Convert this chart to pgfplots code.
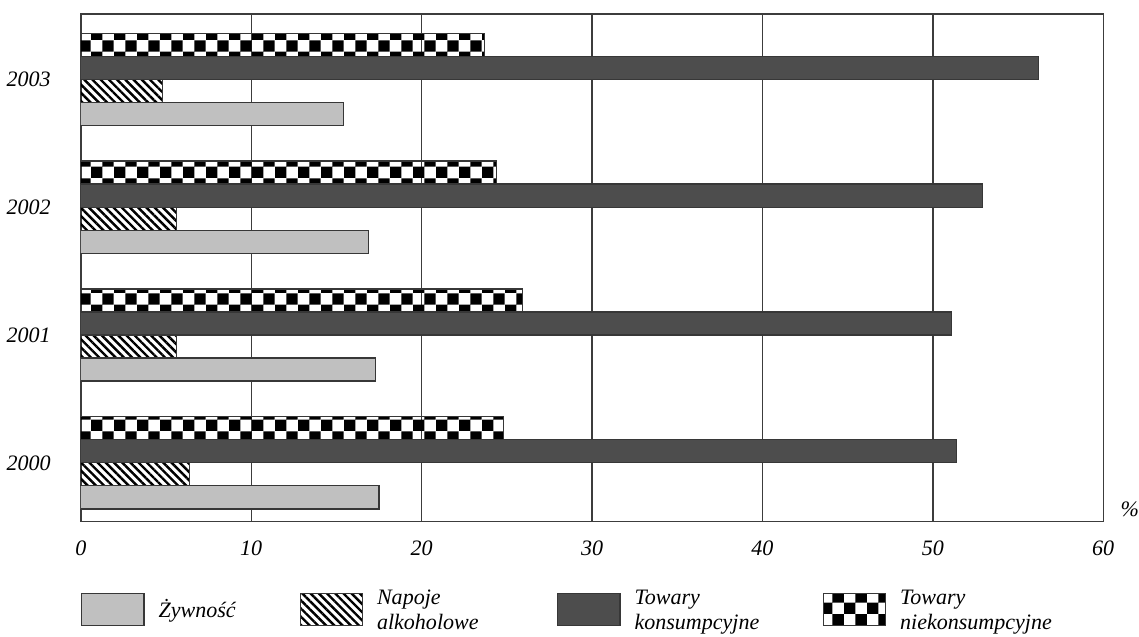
\documentclass[border=0pt]{standalone}
\usepackage{pgfplots}
\pgfplotsset{compat=1.18}
\usepackage{fontspec}
\setmainfont{Liberation Serif}
\usetikzlibrary{patterns,patterns.meta}

\definecolor{lightbar}{RGB}{192,192,192}
\definecolor{darkbar}{RGB}{77,77,77}
\definecolor{edge}{RGB}{55,55,55}
\definecolor{gridc}{RGB}{60,60,60}

% large checkerboard tile (squares of 5.7pt)
\pgfdeclarepatternformonly{bigchecker}{\pgfqpoint{0pt}{0pt}}{\pgfqpoint{11.4pt}{11.4pt}}{\pgfqpoint{11.4pt}{11.4pt}}{%
  \pgfpathrectangle{\pgfqpoint{0pt}{0pt}}{\pgfqpoint{5.7pt}{5.7pt}}%
  \pgfpathrectangle{\pgfqpoint{5.7pt}{5.7pt}}{\pgfqpoint{5.7pt}{5.7pt}}%
  \pgfusepath{fill}}

\pgfplotstableread{
year zyw nap tow niek
0 17.5 6.4 51.4 24.8
1 17.3 5.6 51.1 25.9
2 16.9 5.6 52.9 24.4
3 15.4 4.8 56.2 23.7
}\datatable

% legend text block of fixed width (one or two lines), bottom-aligned
\newcommand{\entry}[2]{\makebox[#1][l]{\renewcommand{\arraystretch}{0.95}\begin{tabular}[b]{@{}l@{}}#2\end{tabular}}}

\begin{document}
\begin{tikzpicture}
\begin{axis}[
  scale only axis,
  width=510.5pt, height=253.5pt,
  xbar, bar width=0.18,
  xmin=0, xmax=60,
  ymin=-0.46, ymax=3.51,
  xtick={0,10,...,60},
  ytick={0,1,2,3},
  yticklabels={2000,2001,2002,2003},
  xmajorgrids, grid style={gridc, line width=0.7pt},
  major tick length=0pt,
  axis line style={gridc, line width=0.7pt},
  /pgf/number format/assume math mode=true,
  ticklabel style={font=\fontsize{11}{13}\selectfont\itshape},
  xticklabel style={yshift=-6pt},
  yticklabel style={xshift=-11.5pt},
  xlabel={\%},
  xlabel style={at={(rel axis cs:1,0)}, anchor=west, inner sep=0pt, xshift=8.5pt, yshift=6pt, font=\fontsize{11}{13}\selectfont\itshape},
  legend columns=4,
  legend style={at={(0,-0.12)}, anchor=north west, draw=none,
    inner sep=0pt,
    /tikz/every odd column/.append style={column sep=5pt},
    /tikz/every even column/.append style={column sep=0pt},
    cells={anchor=west},
    font=\fontsize{11}{13}\selectfont\itshape},
  legend image code/.code={\draw[#1, draw=edge, line width=0.6pt] (0pt,-8pt) rectangle (31pt,8pt);},
]
\addplot[fill=lightbar, draw=edge, line width=0.6pt, bar shift=-0.27] table[x=zyw, y=year] {\datatable};
\addlegendentry{\entry{68.5pt}{Żywność}}
\addplot[pattern={Lines[angle=-45,distance=2.9pt,line width=1.2pt]}, pattern color=black, draw=edge, line width=0.6pt, bar shift=-0.09] table[x=nap, y=year] {\datatable};
\addlegendentry{\entry{88pt}{Napoje\\alkoholowe}}
\addplot[fill=darkbar, draw=edge, line width=0.6pt, bar shift=0.09] table[x=tow, y=year] {\datatable};
\addlegendentry{\entry{92pt}{Towary\\konsumpcyjne}}
\addplot[pattern=bigchecker, pattern color=black, draw=edge, line width=0.6pt, bar shift=0.27] table[x=niek, y=year] {\datatable};
\addlegendentry{\entry{80pt}{Towary\\niekonsumpcyjne}}
\end{axis}
\path (current axis.north) -- ++(0pt,7pt);
\end{tikzpicture}
\end{document}
